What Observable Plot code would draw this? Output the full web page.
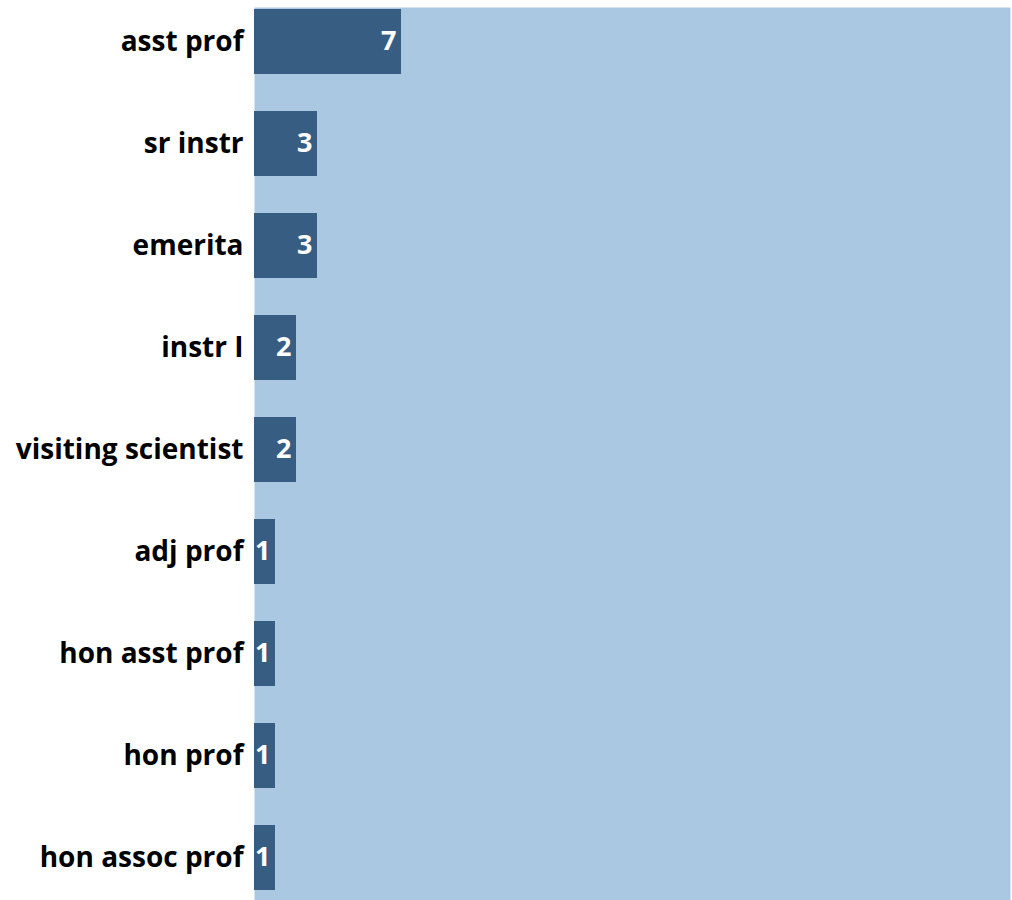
<!DOCTYPE html>
<html>
<head>
<meta charset="utf-8">
<script src="https://cdn.jsdelivr.net/npm/d3@7"></script>
<script src="https://cdn.jsdelivr.net/npm/@observablehq/plot@0.6"></script>
<style>
  html, body { margin: 0; padding: 0; background: #fff; }
  svg { display: block; }
</style>
</head>
<body>
<div id="chart"></div>
<script>
const categories = ["asst prof", "sr instr", "emerita", "instr I", "visiting scientist", "adj prof", "hon asst prof", "hon prof", "hon assoc prof"];
const counts = [7, 3, 3, 2, 2, 1, 1, 1, 1];
const data = categories.map((c, i) => ({category: c, count: counts[i]}));

const chart = Plot.plot({
  width: 1012,
  height: 900,
  marginTop: 7,
  marginBottom: 0,
  marginLeft: 254,
  marginRight: 2,
  style: {fontFamily: "'Open Sans', sans-serif", background: "#ffffff"},
  x: {domain: [0, 36], axis: null},
  y: {domain: categories, range: [-13.4, 911.4], paddingInner: 0.367, paddingOuter: 0.1835, label: null},
  marks: [
    Plot.frame({fill: "#abc8e2", stroke: null}),
    Plot.barX(data, {x: "count", y: "category", fill: "#385d82"}),
    Plot.text(data, {x: "count", y: "category", text: d => String(d.count), textAnchor: "end", dx: -5, dy: -1, fill: "#ffffff", fontSize: 27, fontWeight: "bold"}),
    Plot.axisY({tickSize: 0, tickPadding: 11, fontSize: 28, fontWeight: "bold", fill: "#000", label: null})
  ]
});
chart.querySelectorAll("[aria-label='y-axis tick label'] text").forEach(t => t.setAttribute("font-weight", "bold"));
document.getElementById("chart").appendChild(chart);
</script>
</body>
</html>
